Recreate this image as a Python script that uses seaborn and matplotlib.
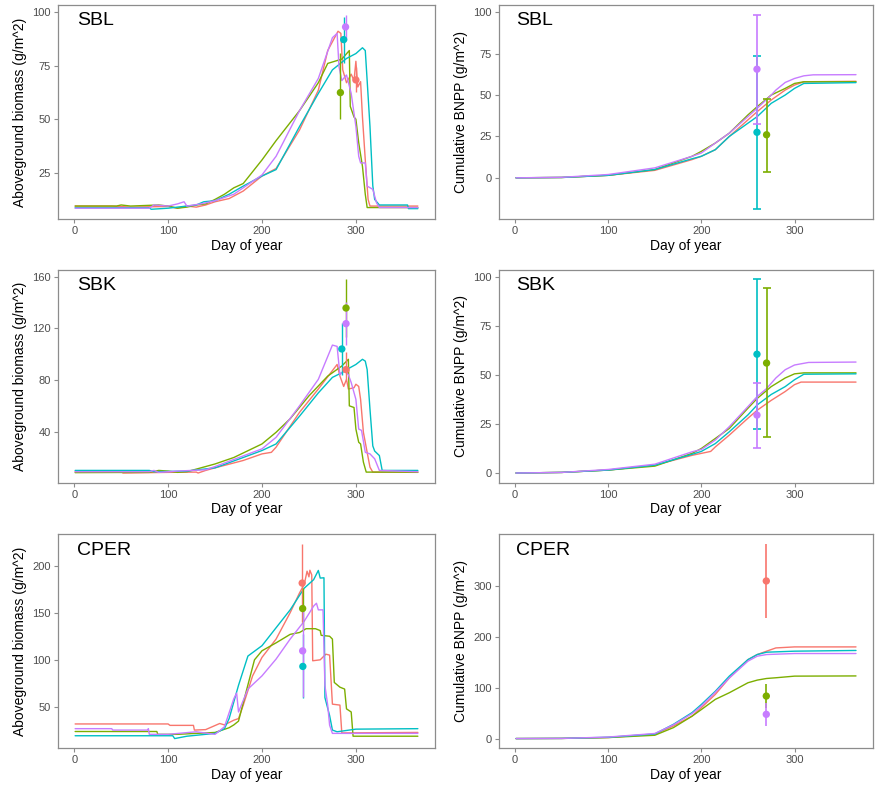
import numpy as np
import pandas as pd
import matplotlib
matplotlib.use("Agg")
import matplotlib.pyplot as plt
import seaborn as sns

# ---------------- data ----------------
series_names = ["A", "B", "C", "D"]
series_colors = ["#F8766D", "#7CAE00", "#00BFC4", "#C77CFF"]
site_labels = ["SBL", "SBK", "CPER"]
x_ticks = [0, 100, 200, 300]

# SBL aboveground biomass: (day, g/m^2)
sbl_agb_a = [(1, 9.5), (40, 9.5), (60, 9), (100, 9.3), (110, 8.5), (120, 9.5), (130, 9), (140, 10), (150, 11.5),
             (165, 13), (180, 16.5), (200, 23.5), (215, 27), (240, 45), (260, 63.5), (270, 82), (281, 91), (284, 90),
             (286, 73), (290, 67), (295, 71), (298, 68), (300, 77), (302, 65), (305, 67.5), (307, 51), (310, 31),
             (313, 12.6), (315, 9.5), (366, 9.5)]
sbl_agb_b = [(1, 9.5), (45, 9.5), (50, 10), (60, 9.5), (90, 10), (100, 9.5), (110, 8.5), (120, 9), (130, 10),
             (140, 10.5), (150, 12.6), (160, 15), (170, 18), (180, 20), (200, 31), (215, 40), (240, 54), (260, 67),
             (270, 76), (285, 78), (293, 82), (294, 56), (298, 51), (300, 50), (303, 39), (307, 28), (310, 15),
             (312, 8.8), (366, 8.8)]
sbl_agb_c = [(1, 8.7), (80, 8.7), (82, 8), (100, 8.5), (110, 9), (130, 10), (138, 11.5), (150, 12), (165, 15),
             (180, 18.8), (200, 23.5), (215, 26.5), (240, 46.6), (260, 62), (275, 73), (290, 78.3), (300, 80.6),
             (307, 83.3), (310, 82), (312, 68), (315, 46.6), (318, 19), (320, 12.6), (325, 10), (355, 10),
             (356, 8.3), (366, 8.3)]
sbl_agb_d = [(1, 8.5), (80, 8.5), (85, 10), (100, 9.5), (110, 10.5), (117, 11.5), (120, 9.5), (135, 10.5),
             (150, 12), (170, 15), (200, 24), (215, 32.7), (240, 54), (260, 69), (275, 88), (280, 90), (282, 74.5),
             (285, 68), (290, 70.6), (295, 62), (300, 46.6), (303, 32.7), (305, 29.6), (310, 29.6), (312, 18.8),
             (318, 17.3), (322, 11), (325, 8.8), (366, 8.8)]
# observations: day, mean, low, high (one per series, None when absent)
sbl_agb_obs_day = [300, 283.5, 287, 289]
sbl_agb_obs_mean = [68.3, 62.4, 87.1, 93]
sbl_agb_obs_low = [62.8, 50, 76, 87]
sbl_agb_obs_high = [74.4, 81, 97.6, 98.7]

# SBL cumulative BNPP
sbl_bnpp_a = [(1, 0), (50, 0.2), (100, 1.5), (150, 4.5), (190, 11), (200, 13), (215, 17), (230, 25), (250, 35),
              (260, 40), (275, 47), (290, 53), (300, 56), (310, 58), (366, 58.3)]
sbl_bnpp_b = [(1, 0), (50, 0.2), (100, 1.5), (150, 5), (190, 13), (200, 16), (215, 21), (230, 27), (250, 38),
              (260, 43), (275, 50), (290, 54), (300, 57), (310, 58), (366, 58)]
sbl_bnpp_c = [(1, 0), (50, 0.2), (100, 1.5), (150, 5), (190, 11.5), (200, 13), (215, 17), (230, 25), (250, 33),
              (260, 37), (275, 45), (290, 50), (300, 54), (310, 57), (366, 57.5)]
sbl_bnpp_d = [(1, 0), (50, 0.3), (100, 2), (150, 6), (190, 13), (200, 15), (215, 21), (230, 27), (250, 37),
              (260, 42), (275, 50), (280, 53), (290, 57.6), (300, 60), (310, 61.6), (320, 62.2), (366, 62.3)]
sbl_bnpp_obs_day = [None, 270, 259.7, 259.7]
sbl_bnpp_obs_mean = [None, 26, 27.5, 65.6]
sbl_bnpp_obs_low = [None, 3.6, -19, 32.5]
sbl_bnpp_obs_high = [None, 47.7, 73.5, 98.5]

# SBK aboveground biomass
sbk_agb_a = [(1, 9), (50, 9), (52, 8), (100, 8.5), (130, 8.7), (132, 8), (140, 10), (150, 12), (180, 17.7),
             (200, 22.8), (210, 24), (215, 28), (240, 55), (260, 73), (280, 92), (283, 83), (287, 75), (290, 80.5),
             (292, 73), (298, 74), (300, 76.7), (303, 75), (305, 65), (308, 39.5), (312, 24), (315, 12.5),
             (318, 8.7), (366, 8.5)]
sbk_agb_b = [(1, 8.3), (80, 8.5), (90, 10), (100, 9.5), (110, 8.5), (120, 9), (150, 15), (170, 20), (200, 30.5),
             (215, 39.5), (230, 50), (250, 67.7), (270, 83), (285, 90.8), (292, 96), (293, 60), (298, 58.7),
             (300, 42), (303, 31.8), (305, 30.5), (308, 16.4), (311, 8.7), (366, 8.7)]
sbk_agb_c = [(1, 10), (80, 10), (85, 9), (120, 9.5), (150, 12), (180, 20), (200, 25.4), (215, 30.5), (240, 52),
             (260, 70), (275, 82), (285, 85.6), (290, 88), (300, 92), (307, 96), (310, 94.6), (312, 88),
             (315, 57.4), (318, 29), (320, 25), (325, 21.5), (328, 10), (366, 10)]
sbk_agb_d = [(1, 9), (80, 9), (85, 10), (90, 8.5), (110, 9.5), (140, 10.5), (150, 13), (200, 26.7), (215, 35.6),
             (240, 60), (260, 80.5), (275, 107), (280, 106), (283, 84), (288, 88), (292, 84), (295, 78), (300, 65),
             (303, 42), (306, 41), (310, 24), (315, 22.8), (320, 19), (325, 10), (366, 9)]
sbk_agb_obs_day = [289.5, 289.5, 285, 289.5]
sbk_agb_obs_mean = [88, 135.7, 104, 123.6]
sbk_agb_obs_low = [80.5, 113.5, 84, 107]
sbk_agb_obs_high = [102, 158, 124, 140]

# SBK cumulative BNPP
sbk_bnpp_a = [(1, 0), (50, 0.3), (100, 1.5), (150, 4), (190, 9), (200, 10), (210, 11), (215, 13.3), (230, 19.3),
              (250, 27.9), (260, 32), (275, 37), (290, 41.5), (300, 45), (307, 46.3), (366, 46.3)]
sbk_bnpp_b = [(1, 0), (50, 0.3), (100, 1.5), (150, 3.5), (190, 10), (200, 12.5), (215, 17.6), (230, 22.7),
              (250, 33), (260, 38), (275, 44), (290, 48.4), (300, 50.5), (310, 51), (366, 51)]
sbk_bnpp_c = [(1, 0), (50, 0.3), (100, 1.5), (150, 4), (190, 9.5), (200, 11), (215, 15), (230, 21), (250, 29.6),
              (260, 34.7), (275, 40), (290, 44), (300, 47.5), (310, 50.3), (366, 50.5)]
sbk_bnpp_d = [(1, 0), (50, 0.3), (100, 1.8), (150, 4.5), (190, 10.8), (200, 12), (215, 16.8), (230, 23.6),
              (250, 33.8), (260, 39), (270, 43), (280, 48.4), (290, 52.6), (300, 55), (315, 56.3), (366, 56.5)]
sbk_bnpp_obs_day = [None, 270, 259.7, 259.7]
sbk_bnpp_obs_mean = [None, 56, 60.5, 29.5]
sbk_bnpp_obs_low = [None, 18.3, 22.2, 12.7]
sbk_bnpp_obs_high = [None, 94, 98.7, 46]

# CPER aboveground biomass
cper_agb_a = [(1, 32), (100, 32), (102, 30.5), (127, 30.5), (128, 25.5), (140, 26), (155, 32.5), (160, 31),
              (170, 36), (175, 37.7), (180, 51.8), (190, 83), (200, 102.6), (215, 122), (230, 150), (240, 171),
              (245, 180), (248, 194), (250, 188), (251, 195), (253, 190), (254, 99), (262, 100), (268, 106),
              (272, 105), (275, 53), (283, 52), (285, 22.5), (366, 23)]
cper_agb_b = [(1, 24), (88, 24), (89, 21), (110, 21), (150, 23), (165, 28), (170, 31), (175, 35), (183, 65.8),
              (192, 100), (200, 109.6), (215, 118), (230, 127), (240, 129), (247, 133), (257, 133), (262, 131),
              (263, 126), (272, 125), (275, 122), (277, 76), (283, 71), (288, 69), (290, 48), (295, 44.7),
              (297, 19), (366, 19)]
cper_agb_c = [(1, 19.5), (105, 19.5), (107, 16.5), (120, 19), (150, 22), (160, 27), (165, 37.7), (175, 73),
              (185, 104), (200, 115), (215, 134), (230, 153), (245, 176), (255, 185), (260, 194.8), (262, 186.7),
              (266, 187), (267, 60), (272, 41), (275, 25.5), (280, 23.7), (300, 26.5), (366, 27)]
cper_agb_d = [(1, 27), (40, 27), (41, 25.5), (78, 25.5), (79, 27), (80, 21), (100, 21), (130, 23.7), (150, 21),
              (160, 29), (170, 58.8), (173, 64.7), (175, 44.7), (185, 69), (200, 83), (215, 100.8), (230, 122),
              (245, 141), (255, 157), (258, 160), (260, 153), (265, 153), (267, 72.8), (270, 51.8), (272, 30.7),
              (275, 22), (366, 22)]
cper_agb_obs_day = [242.8, 243.3, 243.5, 243.3]
cper_agb_obs_mean = [181.4, 154.4, 93, 109.5]
cper_agb_obs_low = [140, 132, 59, 61]
cper_agb_obs_high = [222.8, 176.5, 127, 158]

# CPER cumulative BNPP
cper_bnpp_a = [(1, 0), (50, 0.3), (100, 2), (150, 8.5), (170, 24.8), (190, 44), (200, 60.7), (215, 86.8),
               (230, 119), (250, 155), (260, 165), (270, 171.6), (280, 178), (300, 180), (366, 180)]
cper_bnpp_b = [(1, 0), (50, 0.3), (100, 2), (150, 6.5), (170, 21.5), (190, 44), (200, 57), (215, 77), (230, 90),
               (250, 109.6), (260, 114.8), (270, 118), (280, 119.4), (300, 122.6), (366, 123)]
cper_bnpp_c = [(1, 0), (50, 0.3), (100, 2.5), (150, 9), (170, 28), (190, 51), (200, 67), (215, 93), (230, 122.6),
               (250, 155), (260, 165), (270, 169.6), (300, 171.6), (366, 173)]
cper_bnpp_d = [(1, 0), (50, 0.3), (100, 3), (150, 10), (170, 27), (190, 49), (200, 64), (215, 91), (230, 119),
               (250, 152), (260, 161.8), (270, 165), (300, 167), (366, 167)]
cper_bnpp_obs_day = [269.7, 269.7, None, 269.7]
cper_bnpp_obs_mean = [309.5, 83.5, None, 47.6]
cper_bnpp_obs_low = [236.8, 60.7, None, 24.8]
cper_bnpp_obs_high = [382, 108, None, 70.4]

y_ticks_agb = [[25, 50, 75, 100], [40, 80, 120, 160], [50, 100, 150, 200]]
y_ticks_bnpp = [[0, 25, 50, 75, 100], [0, 25, 50, 75, 100], [0, 100, 200, 300]]

# ---------------- style ----------------
sns.set_theme(style="white")
plt.rcParams["font.family"] = ["Liberation Sans", "DejaVu Sans"]
plt.rcParams["axes.edgecolor"] = "#8c8c8c"
plt.rcParams["axes.linewidth"] = 0.9

W, H = 875, 790
fig = plt.figure(figsize=(W / 100, H / 100), dpi=100)

col_lr = [(58, 435), (499, 873)]
row_tb = [(5, 219), (269.5, 482.7), (534.3, 748.3)]

panels = [
    [(sbl_agb_a, sbl_agb_b, sbl_agb_c, sbl_agb_d),
     (sbl_agb_obs_day, sbl_agb_obs_mean, sbl_agb_obs_low, sbl_agb_obs_high)],
    [(sbl_bnpp_a, sbl_bnpp_b, sbl_bnpp_c, sbl_bnpp_d),
     (sbl_bnpp_obs_day, sbl_bnpp_obs_mean, sbl_bnpp_obs_low, sbl_bnpp_obs_high)],
    [(sbk_agb_a, sbk_agb_b, sbk_agb_c, sbk_agb_d),
     (sbk_agb_obs_day, sbk_agb_obs_mean, sbk_agb_obs_low, sbk_agb_obs_high)],
    [(sbk_bnpp_a, sbk_bnpp_b, sbk_bnpp_c, sbk_bnpp_d),
     (sbk_bnpp_obs_day, sbk_bnpp_obs_mean, sbk_bnpp_obs_low, sbk_bnpp_obs_high)],
    [(cper_agb_a, cper_agb_b, cper_agb_c, cper_agb_d),
     (cper_agb_obs_day, cper_agb_obs_mean, cper_agb_obs_low, cper_agb_obs_high)],
    [(cper_bnpp_a, cper_bnpp_b, cper_bnpp_c, cper_bnpp_d),
     (cper_bnpp_obs_day, cper_bnpp_obs_mean, cper_bnpp_obs_low, cper_bnpp_obs_high)],
]

palette = dict(zip(series_names, series_colors))

for idx, (curves, obs) in enumerate(panels):
    r, c = divmod(idx, 2)
    l, rt = col_lr[c]
    t, b = row_tb[r]
    ax = fig.add_axes([l / W, 1 - b / H, (rt - l) / W, (b - t) / H])

    rows = []
    for name, pts in zip(series_names, curves):
        for d, v in pts:
            rows.append((name, d, v))
    df = pd.DataFrame(rows, columns=["series", "day", "value"])
    sns.lineplot(data=df, x="day", y="value", hue="series", palette=palette, sort=False,
                 estimator=None, legend=False, ax=ax, linewidth=1.0)

    od, om, olo, ohi = obs
    orows = [(n, d, m, lo, hi) for n, d, m, lo, hi in zip(series_names, od, om, olo, ohi) if d is not None]
    odf = pd.DataFrame(orows, columns=["series", "day", "mean", "low", "high"])
    capsize = 2.9 if (c == 1 and r < 2) else 0
    elw = 1.2 if c == 1 else 1.0
    for _, row in odf.iterrows():
        ax.errorbar(row["day"], row["mean"],
                    yerr=[[row["mean"] - row["low"]], [row["high"] - row["mean"]]],
                    fmt="none", ecolor=palette[row["series"]], elinewidth=elw,
                    capsize=capsize, capthick=elw, zorder=3)
    sns.scatterplot(data=odf, x="day", y="mean", hue="series", palette=palette, legend=False,
                    ax=ax, s=28, edgecolor="none", zorder=4)

    # limits with ggplot-like 5% expansion
    all_y = list(df["value"]) + list(odf["low"]) + list(odf["high"])
    ymin, ymax = min(all_y), max(all_y)
    pad = (ymax - ymin) * 0.05
    ax.set_ylim(ymin - pad, ymax + pad)
    ax.set_xlim(1 - 365 * 0.05, 366 + 365 * 0.05)
    ax.set_xticks(x_ticks)
    ax.set_yticks(y_ticks_agb[r] if c == 0 else y_ticks_bnpp[r])

    for sp in ax.spines.values():
        sp.set_visible(True)
        sp.set_color("#8c8c8c")
    ax.tick_params(axis="both", which="major", direction="out", length=3, width=0.8,
                   color="#8c8c8c", labelsize=8, labelcolor="#4d4d4d", pad=2, bottom=True, left=True)
    ax.set_xlabel("Day of year", fontsize=10, color="black", labelpad=2)
    ax.set_ylabel("Aboveground biomass (g/m^2)" if c == 0 else "Cumulative BNPP (g/m^2)",
                  fontsize=10, color="black", labelpad=4)
    ax.text(0.05 if c == 0 else 0.045, 0.965, site_labels[r], transform=ax.transAxes,
            fontsize=14, va="top", ha="left", color="black")
    ax.grid(False)

fig.savefig("out.png", dpi=100, facecolor="white")
